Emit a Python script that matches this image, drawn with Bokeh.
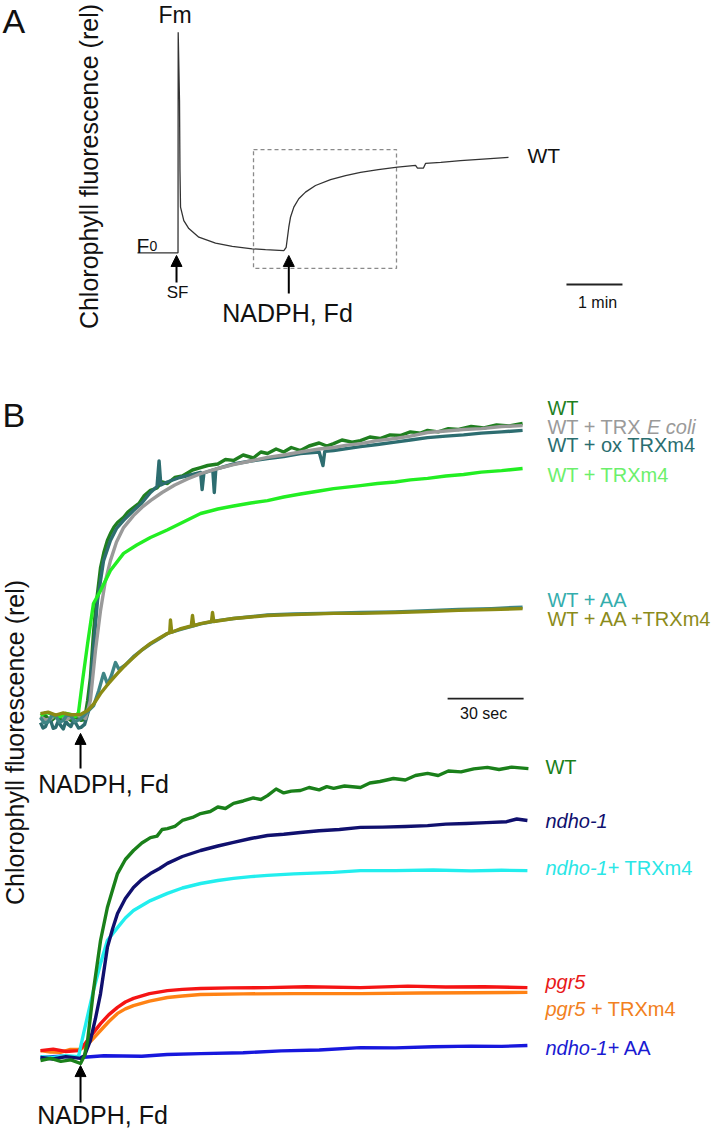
import math
from bokeh.plotting import figure
from bokeh.layouts import column
from bokeh.models import Range1d, Arrow, NormalHead
from bokeh.core.properties import value
from bokeh.embed import file_html
from bokeh.resources import INLINE

FONT = "Liberation Sans"

# ---------------- Panel A data (time s, fluorescence rel, F0=0, Fm=100) ----------------
a_t = [0, 43.4, 43.6, 45.0, 45.5, 46.1, 49.6, 55.0, 65.7, 83.6, 101.5, 122.9, 137.1, 156.8,
       159.3, 162.1, 163.9, 167.5, 172.8, 180.0, 190.7, 206.8, 222.9, 238.9, 258.0, 278.6,
       297.9, 300.0, 306.4, 308.6, 325.0, 346.1, 370.0, 397.5]
a_f = [0, 0, 100.0, 69.0, 37.3, 20.7, 14.6, 11.0, 7.1, 4.4, 2.9, 1.8, 1.4, 1.0,
       2.5, 11.6, 16.1, 20.7, 24.5, 27.5, 30.5, 33.2, 35.0, 36.5, 37.7, 38.8,
       39.6, 38.4, 38.4, 40.5, 41.0, 41.8, 42.5, 43.3]
a_box = dict(left=124.3, right=277.5, top=46.8, bottom=-7.1)
a_sf_time = 41.8
a_nadph_time = 162.1
a_scalebar_start = 459.6
a_scalebar_len = 60  # 1 min

# ---------------- Panel B upper (time s, rel) ----------------
wt_t = [0, 2, 4, 6, 8, 10, 12, 14, 16, 17.4, 18.6, 19.7, 20.9, 21.7, 23.7, 25, 26.4, 27.6, 29, 30.4,
        32.8, 34.5, 36.7, 39, 41, 43.4, 46, 48, 50.1, 53, 56, 60, 63.2, 66, 70, 73, 76.2, 80, 84, 87,
        89.6, 93, 96, 99, 102.6, 106, 110, 113, 115.7, 119, 123, 126.3, 130, 134, 138, 142, 146, 150,
        152.8, 157, 161, 165, 170, 175, 180, 185, 190.3]
wt_f = [-0.3, 0.6, -1.2, 0.2, -0.8, 0.4, -1.0, 0.1, -0.9, -0.7, 5.7, 13.3, 28, 35.7, 50, 55, 59, 61.3, 63.5, 65,
        66.7, 68.5, 70, 71.5, 74, 75.7, 76.5, 78.5, 78, 80, 80.5, 82.5, 83.3, 84, 84.5, 86, 85.7, 87.5, 86.5, 88.5,
        88, 89.5, 88.5, 90, 89, 90.5, 91.5, 90.5, 91.3, 92.5, 91.8, 92.3, 93.5, 93, 94.2, 94, 95.2, 94.8,
        95.7, 95.2, 96.3, 96, 97, 96.5, 97.5, 97.2, 98]

ecoli_t = [0, 2, 4, 6, 8, 10, 12, 14, 16, 17.8, 19.7, 21.7, 23.7, 25.5, 27.6, 30, 32.8, 36.7, 40, 43.4, 48, 53,
           58, 63.2, 70, 76.2, 83, 89.6, 96, 102.6, 110, 115.7, 121, 126.3, 133, 140, 146, 152.8, 160, 167,
           174, 182, 190.3]
ecoli_f = [0.3, -0.8, -0.5, 0.9, 0.6, -0.6, 0, 0.8, 0.3, -0.3, 5.7, 22.3, 35.7, 45, 52.3, 58.5, 63.3, 67.3, 70,
           72.3, 75, 77.5, 79.5, 81.3, 83, 84.3, 85.5, 86.7, 87.5, 88.5, 89.5, 90, 90.8, 91.3, 92.3, 93, 93.8,
           95, 95.5, 96, 96.3, 97, 97.3]

ox_t = [0, 1, 2, 3, 4, 5, 6, 7, 8, 9, 10, 11, 12, 13, 14, 15, 16, 17.4, 19, 20.5, 22.5, 24.9, 27.6, 30, 32.8,
        36.7, 40, 43.4, 46, 46.8, 47.5, 50, 55, 60, 63.2, 63.8, 64.5, 68, 68.6, 69.2, 76.2, 83, 89.6, 96,
        102.6, 110, 111.5, 112.2, 115.7, 126.3, 133, 140, 146, 152.8, 160, 167, 174, 182, 190.3]
ox_f = [-1.7, -3.5, -3, -0.8, -1, -3.6, -3.3, -1.2, -2.7, -3.8, -1.3, -2.4, -3, -1.1, -2, -3.5, -3.3, -2.3, 2.3,
        19, 39, 52.3, 59, 63, 65.7, 69, 71.5, 75, 77, 85.5, 77.5, 78.5, 80, 81, 81.7, 76, 81.5, 82.5, 75,
        82.8, 84.5, 85.5, 86.3, 87, 88, 88.5, 84, 88.7, 89, 90.3, 91, 91.8, 92.5, 93.3, 93.8, 94.2, 94.8,
        95.2, 95.7]

trx_t = [0, 2, 4, 6, 8, 10, 12, 13.8, 15, 16.6, 18.6, 20.9, 23.7, 27.6, 32.8, 38, 43.4, 50, 56, 63.2, 70, 76.2,
         83, 89.6, 96, 102.6, 110, 115.7, 121, 126.3, 133, 140, 146, 152.8, 160, 167, 174, 182, 190.3]
trx_f = [0.7, 1.6, 1.3, 0.2, 0.3, 1.4, 1, 0.3, 1.7, 12.3, 24.7, 38, 42.3, 49, 54.7, 57.5, 60, 62.5, 65, 68,
         69.5, 70.5, 71.5, 72.3, 73.5, 74.5, 75.5, 76.3, 76.8, 77.3, 78, 78.5, 79.2, 79.7, 80.5, 81, 81.8,
         82.3, 83]

aa_t = [0, 1.5, 3, 4.5, 6, 7.5, 9, 10.5, 12, 13.5, 15.8, 18.6, 21, 23, 24.9, 26.5, 28, 29.6, 31, 33.5,
        36.7, 40, 43.4, 47, 50.1, 55, 60, 63.2, 70, 76.2, 83, 89.6, 100, 115.7, 126.3, 140, 152.8, 165,
        178, 190.3]
aa_f = [0, -1.8, -1.5, 0.8, 0.5, -1.6, -1, 0.9, 0.5, -1.4, -0.5, 2, 4, 9, 14.7, 11, 14, 18.3, 16, 17.5,
        20.3, 22.5, 24.5, 26.3, 28, 29.3, 30.5, 31.2, 32.3, 33, 33.6, 34.2, 34.5, 34.8, 35, 35.2, 35.6,
        36, 36.3, 36.8]

aatrx_t = [0, 3, 6, 9, 12, 15.8, 18.6, 21, 23.7, 27, 30.4, 33.5, 36.7, 40, 43.4, 47, 50.1, 51, 51.3, 51.8,
           55, 59.5, 60, 60.5, 63.2, 67.5, 67.9, 68.4, 76.2, 83, 89.6, 100, 115.7, 126.3, 140, 152.8, 165,
           178, 190.3]
aatrx_f = [1.3, 1.8, 0.8, 1.5, 0.9, 1, 2.3, 4.5, 8, 11.5, 14.7, 17.5, 20, 22.5, 24.7, 26.5, 28, 28.3, 32.5,
           28.4, 29.5, 30.5, 34, 30.6, 31.3, 32, 35, 32, 33, 33.5, 34, 34.3, 34.7, 34.7, 35, 35.3, 35.7,
           36, 36.3]

# ---------------- Panel B lower (time s, rel) ----------------
lwt_t = [0, 4, 8, 12, 15.8, 17.4, 18.6, 20.9, 23.7, 26.4, 28.5, 30.4, 33.5, 36.7, 40, 43.4, 46, 48, 50.1,
         53, 56, 60, 63.2, 67, 70, 73, 76.2, 80, 84, 87, 89.6, 93, 96, 99, 102.6, 106, 110, 113, 115.7,
         120, 126.3, 130, 134, 139.3, 144, 148, 152.8, 157, 161, 166, 171, 176.4, 181, 186, 192.6]
lwt_f = [-1, -0.3, -1.3, -0.8, -2, 0.7, 5.7, 22.3, 39, 50, 56, 61.3, 66, 69, 71.5, 73.3, 73.8, 76, 76.3,
         77, 79, 80, 81.3, 82, 83.5, 83, 84.7, 85.5, 86.5, 86, 87.3, 89.5, 88.2, 88.8, 89, 90, 89.2, 90.3,
         89.7, 90.5, 90, 91.5, 92, 93, 92.5, 94, 94.7, 94, 95.5, 95.2, 96.2, 96.7, 96, 96.8, 96.3]

ndho_t = [0, 5, 10, 15.8, 17.4, 19.7, 21.7, 23.7, 26.4, 28.5, 30.4, 33.5, 36.7, 40, 43.4, 47, 50.1, 56, 63.2,
          70, 76.2, 83, 89.6, 96, 102.6, 110, 118, 126.3, 135, 144, 152.8, 160, 168, 176, 184, 188, 192.2]
ndho_f = [0, -0.5, 0.3, -0.3, 0.7, 5.7, 13, 21.3, 36.7, 43, 48, 53, 56.7, 59.3, 61.3, 63, 64.7, 67, 69,
          70.5, 71.7, 73, 74, 74.4, 75, 75.6, 76, 76.7, 76.8, 77, 77.3, 77.8, 78, 78.3, 78.6, 79.5, 79]

ndtrx_t = [0, 5, 10, 15, 17, 20.9, 23.7, 26.4, 30.4, 33.5, 36.7, 43.4, 50.1, 56, 63.2, 70, 76.2, 83, 89.6,
           100, 115.7, 126.3, 140, 155, 170, 182, 192.2]
ndtrx_f = [0.3, 0, 0.6, 0.3, 8, 22.3, 31.3, 39, 43.3, 46.5, 49, 52.3, 54.7, 56.5, 58, 59, 59.7, 60.3, 60.7,
           61.2, 61.7, 62.3, 62.3, 62.5, 62.2, 62.4, 62.3]

pgr_t = [0, 5, 10, 15, 17, 20, 23.7, 27, 30.4, 33.5, 36.7, 43, 50.1, 56, 63.2, 75, 89.6, 105, 126.3, 145,
         160, 175, 192.2]
pgr_f = [2.3, 2.8, 2, 2.3, 4, 7.3, 11.3, 14.3, 16.7, 18.5, 19.7, 21.3, 22.3, 22.7, 23, 23.2, 23.3, 23.6,
         23.3, 23.8, 23.5, 23.6, 23.3]

pgtrx_t = [0, 4, 7.9, 11.8, 15.8, 18.2, 21, 23.7, 27, 30.4, 33.5, 36.7, 43, 50.1, 56, 63.2, 80, 100, 126.3,
           150, 170, 192.2]
pgtrx_f = [2.3, 1.8, 1.7, 2.7, 2.7, 4, 6.5, 9, 12, 14.7, 16.2, 17.3, 18.8, 20, 20.5, 21, 21.2, 21.3, 21.3,
           21.5, 21.6, 21.7]

ndaa_t = [0, 8, 15.8, 25, 40, 50, 63.2, 80, 95, 110, 126.3, 140, 155, 170, 182, 192.2]
ndaa_f = [0, 0.4, 0, 0.6, 0.4, 1, 1.3, 1.6, 2.2, 2.5, 3.3, 3.2, 3.6, 3.8, 3.7, 4]

b_nadph_time = 15.8
b_scalebar_start = 160.7
b_scalebar_len = 30  # 30 sec

# Arial / Liberation Sans advance widths (1/1000 em)
ADV = {'W': 944, 'T': 611, ' ': 278, '+': 584, 'R': 722, 'X': 667, 'E': 667, 'c': 500, 'o': 556,
       'l': 222, 'i': 222, 'x': 500, 'm': 833, '4': 556, 'n': 556, 'd': 556, 'h': 556, '-': 333,
       '1': 556, 'p': 556, 'g': 556, 'r': 333, '5': 556, 'A': 667}


def twidth(s, px):
    return sum(ADV.get(ch, 556) for ch in s) * px / 1000.0


def txt(p, x, y, s, size, color="#111111", align="left", baseline="middle", style="normal",
        angle=0.0, x_offset=0, rng="default"):
    p.text(x=[x], y=[y], text=[s], text_font=value(FONT), text_font_size=value(f"{size}px"),
           text_color=color, text_align=align, text_baseline=baseline, text_font_style=style,
           angle=angle, x_offset=x_offset, y_range_name=rng)


def rich(p, x, y, segs, color, size=20, rng="default"):
    prefix = ""
    for s, italic in segs:
        lead = s[:len(s) - len(s.lstrip())]
        txt(p, x, y, s.strip(), size, color=color, style="italic" if italic else "normal",
            x_offset=twidth(prefix + lead, size), rng=rng)
        prefix += s


def base_fig(w, h, xr, yr):
    p = figure(width=w, height=h, x_range=Range1d(*xr), y_range=Range1d(*yr),
               x_axis_type=None, y_axis_type=None, toolbar_location=None,
               output_backend="svg", min_border=0, outline_line_color=None)
    p.min_border_left = p.min_border_right = p.min_border_top = p.min_border_bottom = 0
    p.background_fill_color = "white"
    return p


# ---------------- Panel A figure ----------------
pa = base_fig(720, 345, (-146.79, 624.64), (-42.02, 114.37))
pa.quad(left=[a_box["left"]], right=[a_box["right"]], top=[a_box["top"]], bottom=[a_box["bottom"]],
        fill_color=None, line_color="#8a8a8a", line_width=1.3, line_dash="4 3")
pa.line(a_t, a_f, line_color="#333333", line_width=1.3)
pa.line([a_scalebar_start, a_scalebar_start + a_scalebar_len], [-14.4, -14.4],
        line_color="#222222", line_width=2)
for t, tail in ((a_sf_time, -13.5), (a_nadph_time, -18.5)):
    pa.add_layout(Arrow(end=NormalHead(size=11, fill_color="black", line_color="black"),
                        x_start=t, y_start=tail, x_end=t, y_end=-1.2,
                        line_color="black", line_width=2))
txt(pa, -144.6, 105.3, "A", 34)
txt(pa, -52.0, 39.1, "Chlorophyll fluorescence (rel)", 25, align="center", angle=math.pi / 2)
txt(pa, 40.2, 108.0, "Fm", 23, align="center")
txt(pa, -1.07, 3.3, "F", 21, baseline="alphabetic")
txt(pa, 12.9, 3.3, "0", 14, baseline="alphabetic")
txt(pa, 42.9, -17.8, "SF", 17, align="center")
txt(pa, 160.7, -27.5, "NADPH, Fd", 25, align="center")
txt(pa, 417.9, 44.3, "WT", 21)
txt(pa, 492.9, -22.5, "1 min", 16, align="center")

# ---------------- Panel B figure (image y 345..1131) ----------------
pb = base_fig(720, 786, (-15.79, 268.42), (-138.0, 124.0))
pb.extra_y_ranges = {"lower": Range1d(-24.67, 237.33)}

LW = 3.4
C_WT = "#1f7f1f"
C_GRAY = "#9a9a9a"
C_OX = "#2d6d70"
C_TRX = "#22ee22"
C_AA = "#3f8585"
C_AATRX = "#8b8b14"

pb.line(wt_t, wt_f, line_color=C_WT, line_width=LW, line_join="round")
pb.line(ox_t, ox_f, line_color=C_OX, line_width=LW, line_join="round")
pb.line(ecoli_t, ecoli_f, line_color=C_GRAY, line_width=LW, line_join="round")
pb.line(trx_t, trx_f, line_color=C_TRX, line_width=LW, line_join="round")
pb.line(aa_t, aa_f, line_color=C_AA, line_width=LW, line_join="round")
pb.line(aatrx_t, aatrx_f, line_color=C_AATRX, line_width=LW, line_join="round")

C_LWT = "#1a801a"
C_NDHO = "#10106e"
C_CYAN = "#22eeee"
C_RED = "#f51414"
C_ORANGE = "#ff8214"
C_BLUE = "#1717dd"

pb.line(ndaa_t, ndaa_f, line_color=C_BLUE, line_width=LW, line_join="round", y_range_name="lower")
pb.line(pgtrx_t, pgtrx_f, line_color=C_ORANGE, line_width=LW, line_join="round", y_range_name="lower")
pb.line(pgr_t, pgr_f, line_color=C_RED, line_width=LW, line_join="round", y_range_name="lower")
pb.line(ndtrx_t, ndtrx_f, line_color=C_CYAN, line_width=LW, line_join="round", y_range_name="lower")
pb.line(ndho_t, ndho_f, line_color=C_NDHO, line_width=LW, line_join="round", y_range_name="lower")
pb.line(lwt_t, lwt_f, line_color=C_LWT, line_width=LW, line_join="round", y_range_name="lower")

pb.line([b_scalebar_start, b_scalebar_start + b_scalebar_len], [6.3, 6.3],
        line_color="#222222", line_width=1.8)
txt(pb, 174.9, 1.3, "30 sec", 16, align="center")

pb.add_layout(Arrow(end=NormalHead(size=11, fill_color="black", line_color="black"),
                    x_start=b_nadph_time, y_start=-17, x_end=b_nadph_time, y_end=-5.3,
                    line_color="black", line_width=2))
pb.add_layout(Arrow(end=NormalHead(size=11, fill_color="black", line_color="black"),
                    x_start=b_nadph_time, y_start=-15, x_end=b_nadph_time, y_end=-2.7,
                    line_color="black", line_width=2, y_range_name="lower"))
txt(pb, 24.9, -22, "NADPH, Fd", 25, align="center")
txt(pb, 24.5, -19.3, "NADPH, Fd", 25, align="center", rng="lower")

txt(pb, -15.0, 100.7, "B", 34)
txt(pb, -10.26, -8.33, "Chlorophyll fluorescence (rel)", 25, align="center", angle=math.pi / 2)

# upper labels
UX = 200.1
rich(pb, UX, 103.3, [("WT", False)], C_WT)
rich(pb, UX, 97.0, [("WT + TRX ", False), ("E coli", True)], "#9a9a9a")
rich(pb, UX, 90.7, [("WT + ox TRXm4", False)], "#2a6e70")
rich(pb, UX, 80.7, [("WT + TRXm4", False)], "#6cf06c")
rich(pb, UX, 39.3, [("WT + AA", False)], "#34adad")
rich(pb, UX, 32.7, [("WT + AA +TRXm4", False)], "#8b8b1a")

# lower labels
LX = 199.3
rich(pb, LX, 96.7, [("WT", False)], C_LWT, rng="lower")
rich(pb, LX, 78.7, [("ndho-1", True)], C_NDHO, rng="lower")
rich(pb, LX, 63.0, [("ndho-1", True), ("+ TRXm4", False)], "#2ae6e6", rng="lower")
rich(pb, LX, 25.0, [("pgr5", True)], "#e81818", rng="lower")
rich(pb, LX, 16.0, [("pgr5", True), (" + TRXm4", False)], "#f28020", rng="lower")
rich(pb, LX, 3.3, [("ndho-1", True), ("+ AA", False)], "#1a1ad2", rng="lower")

layout = column(pa, pb, spacing=0)
open("out.html", "w").write(file_html(layout, INLINE))
